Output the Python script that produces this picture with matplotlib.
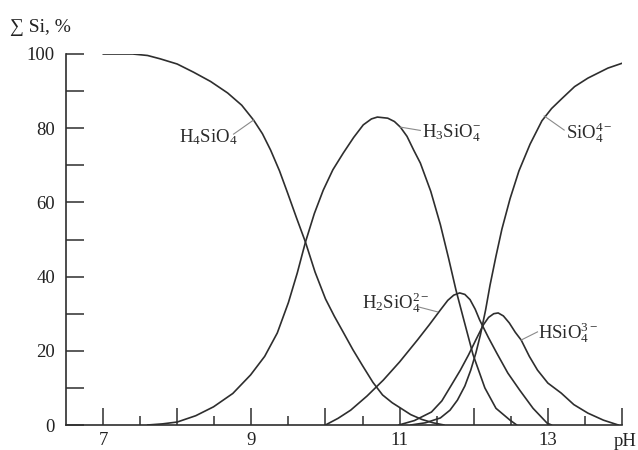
import matplotlib
matplotlib.use("Agg")
import matplotlib.pyplot as plt
from matplotlib.ticker import FixedLocator

plt.rcParams['font.family'] = ['Liberation Serif', 'DejaVu Serif']
plt.rcParams['mathtext.fontset'] = 'custom'
plt.rcParams['mathtext.rm'] = 'Liberation Serif'
plt.rcParams['mathtext.it'] = 'Liberation Serif:italic'

# ---- data (pH, % of total Si) ----
h4_ph = [7.0, 7.4, 7.6, 7.77, 8.0, 8.22, 8.45, 8.68, 8.87, 9.03, 9.15, 9.26, 9.38, 9.49, 9.61,
         9.73, 9.86, 10.0, 10.12, 10.24, 10.37, 10.5, 10.64, 10.77, 10.9, 11.01, 11.15, 11.3, 11.45, 11.6]
h4_val = [100, 100, 99.6, 98.7, 97.3, 95.1, 92.6, 89.5, 86.2, 82.2, 78.5, 74.1, 68.5, 62.5, 55.8,
          49.3, 41.2, 34.0, 29.3, 25.0, 20.3, 16.0, 11.5, 8.1, 6.0, 4.6, 2.8, 1.5, 0.6, 0]

h3_ph = [7.6, 7.8, 8.0, 8.25, 8.49, 8.75, 8.99, 9.18, 9.35, 9.5, 9.62, 9.73, 9.85, 9.97, 10.1,
         10.24, 10.38, 10.51, 10.62, 10.70, 10.84, 10.93, 11.01, 11.1, 11.19, 11.28, 11.42,
         11.55, 11.66, 11.76, 11.86, 11.99, 12.15, 12.3, 12.49, 12.58]
h3_val = [0, 0.3, 0.8, 2.5, 4.9, 8.5, 13.5, 18.5, 24.8, 33.0, 41.0, 49.3, 57.0, 63.3, 68.8,
          73.3, 77.5, 80.9, 82.5, 83.0, 82.7, 81.8, 80.3, 77.8, 74.1, 70.6, 63.0,
          54.0, 45.0, 36.4, 28.8, 19.0, 10.0, 4.5, 1.3, 0]

h2_ph = [10.0, 10.17, 10.34, 10.56, 10.78, 11.0, 11.24, 11.4, 11.55, 11.65, 11.73, 11.81, 11.88,
         11.95, 12.02, 12.08, 12.2, 12.31, 12.46, 12.62, 12.8, 12.99, 13.05]
h2_val = [0, 1.8, 4.0, 7.8, 12.1, 17.0, 22.9, 27.0, 31.0, 33.6, 35.0, 35.6, 35.2,
          33.8, 31.2, 28.3, 23.5, 19.4, 14.0, 9.4, 4.5, 0.5, 0]

h1_ph = [10.99, 11.2, 11.43, 11.57, 11.70, 11.82, 11.93, 12.03, 12.13, 12.2, 12.27, 12.33, 12.40,
         12.48, 12.56, 12.64, 12.75, 12.86, 13.0, 13.18, 13.35, 13.54, 13.75, 13.95]
h1_val = [0, 1.2, 3.5, 6.5, 10.8, 14.8, 18.9, 23.0, 27.0, 29.0, 30.0, 30.2, 29.4,
          27.5, 25.0, 22.9, 18.5, 14.8, 11.3, 8.6, 5.5, 3.2, 1.3, 0]

s4_ph = [11.15, 11.35, 11.55, 11.68, 11.78, 11.88, 11.96, 12.03, 12.09, 12.16, 12.22, 12.30, 12.38,
         12.49, 12.61, 12.76, 12.92, 13.05, 13.19, 13.36, 13.54, 13.81, 14.0]
s4_val = [0, 0.6, 1.9, 4.0, 6.7, 10.5, 14.8, 19.5, 24.3, 31.0, 37.7, 45.5, 52.8,
          61.0, 68.5, 75.7, 82.0, 85.3, 88.0, 91.2, 93.5, 96.2, 97.5]

x_major = [7, 8, 9, 10, 11, 12, 13, 14]
x_minor = [7.5, 8.5, 9.5, 10.5, 11.5, 12.5, 13.5]
x_tick_labels = ['7', '', '9', '', '11', '', '13', '']
y_tick_pos = [0, 20, 40, 60, 80, 100]
y_minor = [10, 30, 50, 70, 90]
y_tick_labels = ['0', '20', '40', '60', '80', '100']

labels = [r'$\mathrm{H_4SiO_4}$', r'$\mathrm{H_3SiO_4^{-}}$', r'$\mathrm{SiO_4^{4-}}$',
          r'$\mathrm{H_2SiO_4^{2-}}$', r'$\mathrm{HSiO_4^{3-}}$']
# label text left/centre position, leader start (curve), leader end (label side)
label_xy = [(8.02, 77.6), (11.30, 78.7), (13.25, 78.7), (10.49, 32.9), (12.87, 24.8)]
leader_curve = [(9.03, 82.2), (11.01, 80.3), (12.95, 83.3), (11.51, 30.5), (12.64, 22.9)]
leader_text = [(8.76, 78.4), (11.28, 79.4), (13.22, 79.5), (11.26, 31.8), (12.86, 25.1)]

fig = plt.figure(figsize=(6.38, 4.5), dpi=100)
ax = fig.add_axes([66/638, 25/450, 556/638, 371/450])

col = '#2e2e2e'
for xs, ys in [(h4_ph, h4_val), (h3_ph, h3_val), (h2_ph, h2_val), (h1_ph, h1_val), (s4_ph, s4_val)]:
    ax.plot(xs, ys, color=col, lw=1.2, solid_capstyle='round', solid_joinstyle='round')

ax.set_xlim(6.5, 14)
ax.set_ylim(0, 100)

for s in ['top', 'right']:
    ax.spines[s].set_visible(False)
for s in ['left', 'bottom']:
    ax.spines[s].set_color(col)
    ax.spines[s].set_linewidth(1.2)

ax.xaxis.set_major_locator(FixedLocator(x_major))
ax.xaxis.set_minor_locator(FixedLocator(x_minor))
ax.set_xticklabels(x_tick_labels)
ax.yaxis.set_major_locator(FixedLocator(y_tick_pos))
ax.yaxis.set_minor_locator(FixedLocator(y_minor))
ax.set_yticklabels(y_tick_labels)

ax.tick_params(axis='x', which='major', direction='in', length=12.5, width=1.1, color=col,
               labelsize=13.5, pad=5, labelcolor='#222')
ax.tick_params(axis='x', which='minor', direction='in', length=6.5, width=1.1, color=col)
ax.tick_params(axis='y', which='both', direction='in', length=13, width=1.1, color=col,
               labelsize=13.5, pad=8, labelcolor='#222')

for lab, (tx, ty), a, b in zip(labels, label_xy, leader_curve, leader_text):
    ax.plot([a[0], b[0]], [a[1], b[1]], color='#8a8a8a', lw=0.8)
    ax.text(tx, ty, lab, fontsize=13.5, ha='left', va='center', color='#2a2a2a')

fig.text(10/638, 1 - 27/450, '∑ Si, %', fontsize=14, ha='left', va='center', color='#222')
fig.text(637/638, 1 - 441/450, 'pH', fontsize=13.5, ha='right', va='center', color='#222')

fig.savefig('out.png', dpi=100, facecolor='white')
